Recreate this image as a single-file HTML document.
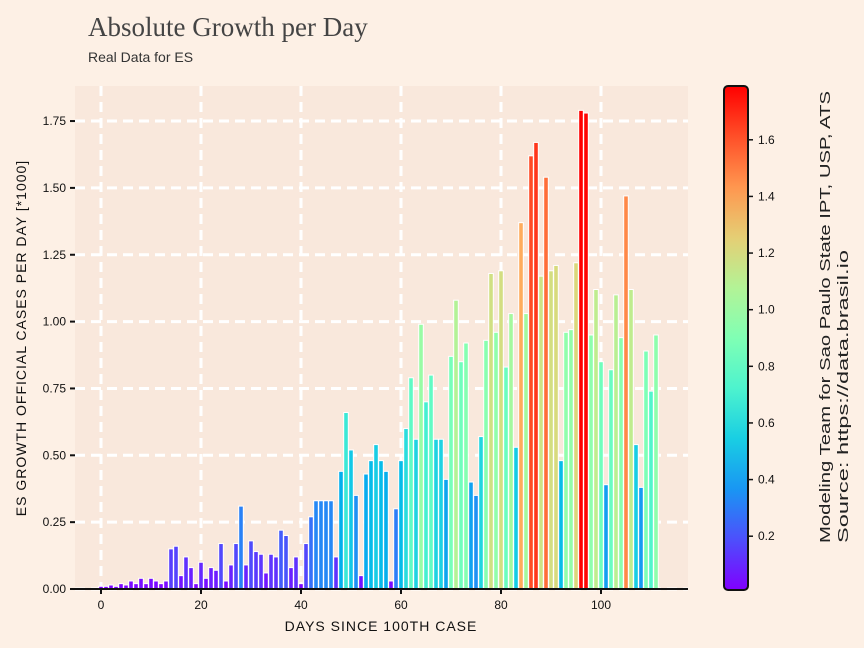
<!DOCTYPE html>
<html><head><meta charset="utf-8"><style>
body{margin:0;background:#fdf0e5;}
svg{display:block;font-family:"Liberation Sans",sans-serif;}
</style></head><body>
<svg id="c" width="864" height="648" viewBox="0 0 864 648">
<rect width="864" height="648" fill="#fdf0e5"/>
<text x="88" y="36" font-family="Liberation Serif, serif" font-size="27" fill="#444">Absolute Growth per Day</text>
<text x="88" y="62" font-size="14" fill="#333">Real Data for ES</text>
<rect x="75" y="86" width="613" height="503" fill="#f9e8dc"/>
<g id="grid"></g>
<g id="bars"></g>
<g id="axes"></g>
<text transform="translate(26,338) rotate(-90)" text-anchor="middle" font-size="14" letter-spacing="1" fill="#111">ES GROWTH OFFICIAL CASES PER DAY [*1000]</text>
<text x="381" y="631" text-anchor="middle" font-size="14" letter-spacing="1" fill="#111">DAYS SINCE 100TH CASE</text>
<defs><linearGradient id="cg" x1="0" y1="1" x2="0" y2="0"></linearGradient></defs>
<rect id="cbar" x="724" y="86" width="24" height="504" rx="4" stroke="#111" stroke-width="2" fill="url(#cg)"/>
<g id="cbticks"></g>
<text transform="translate(830,543) rotate(-90)" font-size="15" textLength="452" lengthAdjust="spacingAndGlyphs" fill="#222">Modeling Team for Sao Paulo State IPT, USP, ATS</text>
<text transform="translate(848,543) rotate(-90)" font-size="15" textLength="293" lengthAdjust="spacingAndGlyphs" fill="#222">Source: https://data.brasil.io</text>
</svg>
<script>
const days=[];for(let i=0;i<112;i++)days.push(i);
const values=[0.01,0.01,0.015,0.01,0.02,0.015,0.03,0.02,0.04,0.02,0.04,0.03,0.02,0.03,0.15,0.16,0.05,0.12,0.08,0.02,0.1,0.04,0.08,0.07,0.17,0.03,0.09,0.17,0.31,0.09,0.18,0.14,0.13,0.06,0.13,0.12,0.22,0.2,0.08,0.12,0.02,0.17,0.27,0.33,0.33,0.33,0.33,0.12,0.44,0.66,0.52,0.35,0.05,0.43,0.48,0.54,0.48,0.44,0.03,0.3,0.48,0.6,0.79,0.56,0.99,0.7,0.8,0.56,0.56,0.41,0.87,1.08,0.85,0.92,0.4,0.35,0.57,0.93,1.18,0.96,1.19,0.83,1.03,0.53,1.37,1.03,1.62,1.67,1.17,1.54,1.19,1.21,0.48,0.96,0.97,1.22,1.79,1.78,0.95,1.12,0.85,0.39,0.82,1.1,0.94,1.47,1.12,0.54,0.38,0.89,0.74,0.95];
const yTicks=[0,0.25,0.5,0.75,1.0,1.25,1.5,1.75];
const xTicks=[0,20,40,60,80,100];
const cbTicks=[0.2,0.4,0.6,0.8,1.0,1.2,1.4,1.6];
const NS="http://www.w3.org/2000/svg";
const X=d=>101+5*d, Y=v=>589-v*267.4;
const vmin=Math.min(...values), vmax=Math.max(...values);
const CBY=v=>590-(v-vmin)/(vmax-vmin)*504;
function rainbow(t){const c=x=>Math.max(0,Math.min(1,x));
 return `rgb(${Math.round(255*c(Math.abs(2*t-0.5)))},${Math.round(255*c(Math.sin(Math.PI*t)))},${Math.round(255*c(Math.cos(Math.PI*t/2)))})`;}
function mk(tag,attrs,parent){const e=document.createElementNS(NS,tag);for(const k in attrs)e.setAttribute(k,attrs[k]);document.getElementById(parent).appendChild(e);return e;}
yTicks.forEach(v=>{const e=mk('line',{x1:75,x2:688,y1:Y(v),y2:Y(v),stroke:'#fff','stroke-width':3,'stroke-dasharray':'10 6'},'grid');

});
xTicks.forEach(d=>{const e=mk('line',{x1:X(d),x2:X(d),y1:86,y2:589,stroke:'#fff','stroke-width':3,'stroke-dasharray':'10 6'},'grid');

});
values.forEach((v,i)=>{const y=Y(v);const r=mk('rect',{x:X(days[i])-2.3,y:y,width:4.6,height:589-y,fill:rainbow((v-vmin)/(vmax-vmin)),stroke:'#fff','stroke-width':1},'bars');

});
const ax=mk('line',{x1:75,x2:688,y1:589,y2:589,stroke:'#111','stroke-width':2},'axes');


yTicks.forEach(v=>{mk('line',{x1:70,x2:75,y1:Y(v),y2:Y(v),stroke:'#111','stroke-width':2},'axes');
const t=mk('text',{x:66,y:Y(v)+4,'text-anchor':'end','font-size':12,fill:'#111'},'axes');t.textContent=v.toFixed(2);

});
xTicks.forEach(d=>{mk('line',{x1:X(d),x2:X(d),y1:589,y2:594,stroke:'#111','stroke-width':2},'axes');
const t=mk('text',{x:X(d),y:609,'text-anchor':'middle','font-size':12,fill:'#111'},'axes');t.textContent=d;

});
const g=document.getElementById('cg');
for(let k=0;k<=10;k++){const s=document.createElementNS(NS,'stop');s.setAttribute('offset',k/10);s.setAttribute('stop-color',rainbow(k/10));g.appendChild(s);}
cbTicks.forEach(v=>{const y=CBY(v);mk('line',{x1:748,x2:753,y1:y,y2:y,stroke:'#111','stroke-width':1.5},'cbticks');
const t=mk('text',{x:758,y:y+4,'font-size':12,fill:'#111'},'cbticks');t.textContent=v.toFixed(1);

});
</script>
</body></html>
